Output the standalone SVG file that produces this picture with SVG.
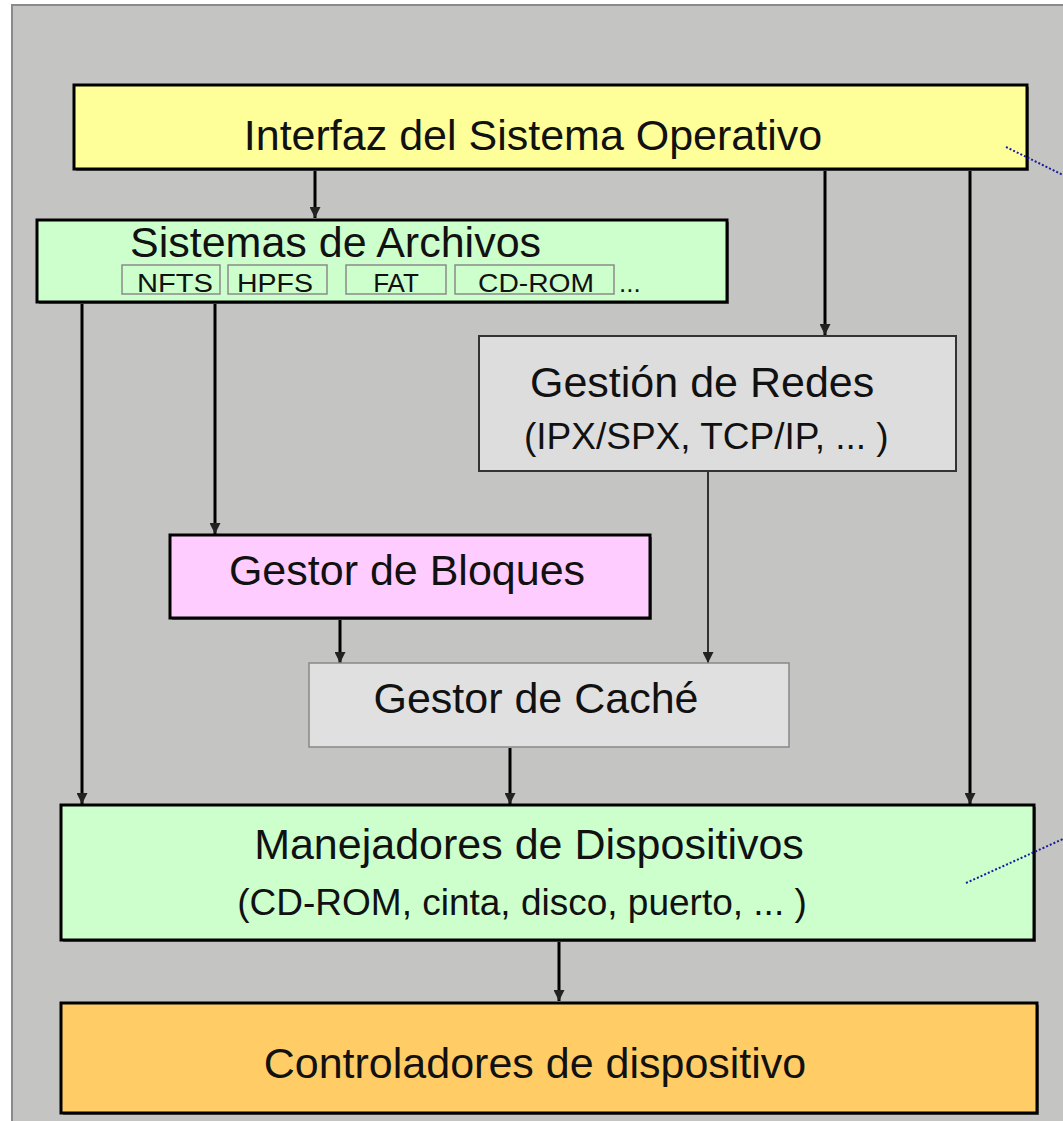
<svg xmlns="http://www.w3.org/2000/svg" width="1063" height="1121" viewBox="0 0 1063 1121">
<defs>
<style>
.t{font-family:"Liberation Sans",Arial,sans-serif;fill:#111;}
.big{font-size:43px;}
.mid{font-size:37px;}
.sm{font-size:26px;}
.box{stroke:#000;stroke-width:3;}
.sh{fill:#666;}
.sub{fill:#CCFFCC;stroke:#8a8a8a;stroke-width:1.5;}
.c{stroke:#000;stroke-width:3;fill:none;marker-end:url(#ah);}
.ct{stroke:#000;stroke-width:1.5;fill:none;marker-end:url(#ah);}
.dot{stroke:#1a1aa0;stroke-width:2;stroke-dasharray:2 2;fill:none;}
</style>
<marker id="ah" viewBox="0 0 10 10" refX="10" refY="5" markerWidth="11" markerHeight="11" orient="auto" markerUnits="userSpaceOnUse">
<path d="M0,0 L10,5 L0,10 Z" fill="#222"/>
</marker>
</defs>
<rect x="0" y="0" width="1063" height="1121" fill="#fff"/>
<rect x="12" y="5" width="1060" height="1120" fill="#C4C4C2" stroke="#8a8a8a" stroke-width="2"/>

<g id="connectors">
<path class="c" d="M315,170 V218"/>
<path class="c" d="M825,170 V335"/>
<path class="c" d="M970,170 V804"/>
<path class="c" d="M82,303 V804"/>
<path class="c" d="M215,303 V534"/>
<path class="ct" d="M708,472 V663"/>
<path class="c" d="M340,619 V663"/>
<path class="c" d="M510,748 V804"/>
<path class="c" d="M559,941 V1001"/>
</g>

<g id="interfaz">
<rect class="sh" x="76" y="87" width="953" height="84"/>
<rect class="box" x="74" y="85" width="953" height="84" fill="#FFFF99"/>
<text class="t big" x="533" y="150" text-anchor="middle">Interfaz del Sistema Operativo</text>
</g>

<g id="archivos">
<rect class="sh" x="39" y="222" width="690" height="82"/>
<rect class="box" x="37" y="220" width="690" height="82" fill="#CCFFCC"/>
<text class="t big" x="130" y="257">Sistemas de Archivos</text>
<rect class="sub" x="122" y="265" width="98" height="29"/>
<text class="t sm" x="175" y="292" text-anchor="middle" textLength="76" lengthAdjust="spacingAndGlyphs">NFTS</text>
<rect class="sub" x="228" y="265" width="99" height="29"/>
<text class="t sm" x="275" y="292" text-anchor="middle" textLength="76" lengthAdjust="spacingAndGlyphs">HPFS</text>
<rect class="sub" x="346" y="265" width="100" height="29"/>
<text class="t sm" x="396" y="292" text-anchor="middle">FAT</text>
<rect class="sub" x="455" y="265" width="159" height="29"/>
<text class="t sm" x="536" y="292" text-anchor="middle" textLength="116" lengthAdjust="spacingAndGlyphs">CD-ROM</text>
<text class="t sm" x="619" y="292">...</text>
</g>

<g id="redes">
<rect x="479" y="336" width="477" height="135" fill="#DDDDDD" stroke="#333" stroke-width="2"/>
<text class="t big" x="530" y="397">Gestión de Redes</text>
<text class="t mid" x="524" y="449">(IPX/SPX, TCP/IP, ... )</text>
</g>

<g id="bloques">
<rect class="sh" x="172" y="537" width="480" height="83"/>
<rect class="box" x="170" y="535" width="480" height="83" fill="#FFCCFF"/>
<text class="t big" x="407" y="585" text-anchor="middle">Gestor de Bloques</text>
</g>

<g id="cache">
<rect x="309" y="663" width="480" height="84" fill="#E0E0E0" stroke="#888" stroke-width="1.5"/>
<text class="t big" x="536" y="713" text-anchor="middle">Gestor de Caché</text>
</g>

<g id="manejadores">
<rect class="sh" x="63" y="807" width="973" height="135"/>
<rect class="box" x="61" y="805" width="973" height="135" fill="#CCFFCC"/>
<text class="t big" x="529" y="859" text-anchor="middle">Manejadores de Dispositivos</text>
<text class="t mid" x="522" y="915" text-anchor="middle">(CD-ROM, cinta, disco, puerto, ... )</text>
</g>

<g id="controladores">
<rect class="sh" x="63" y="1005" width="976" height="110"/>
<rect class="box" x="61" y="1003" width="976" height="110" fill="#FFCC66"/>
<text class="t big" x="535" y="1078" text-anchor="middle">Controladores de dispositivo</text>
</g>

<g id="annotations">
<path class="dot" d="M1006,147 L1063,175"/>
<path class="dot" d="M966,883 L1063,839"/>
</g>
</svg>
